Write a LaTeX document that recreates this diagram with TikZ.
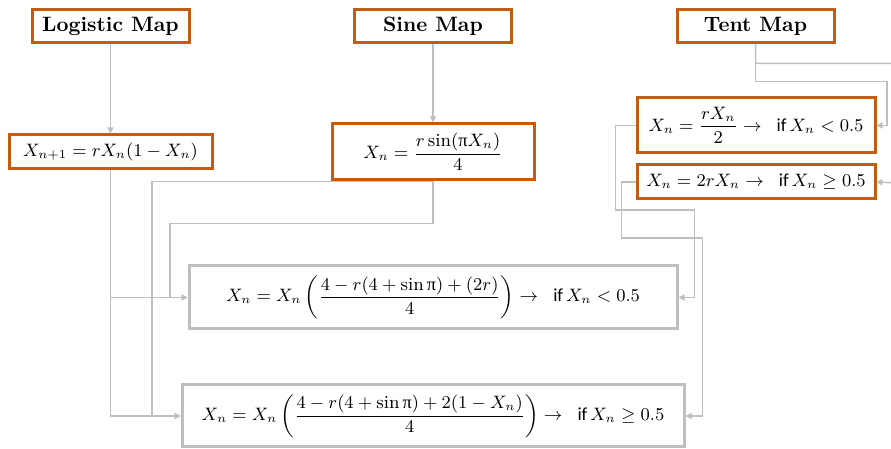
\documentclass[tikz,border=0pt]{standalone}
\usepackage{amsmath}
\usepackage{fontspec}
\newfontfamily\calib{Carlito}
\newfontfamily\grk{Liberation Serif}
\usetikzlibrary{arrows.meta}
\definecolor{orng}{HTML}{C55A11}
\definecolor{gry}{HTML}{BFBFBF}
\newcommand{\iftxt}{\mbox{\hspace{5pt}\calib if\,}}
\newcommand{\upi}{\mbox{\grk π}}
\begin{document}
\begin{tikzpicture}[x=0.5pt,y=-0.5pt,
  obox/.style={draw=orng,line width=1.5pt,fill=white,inner sep=0pt,align=center,font=\fontsize{9.2}{11}\selectfont},
  gbox/.style={draw=gry,line width=1.5pt,fill=white,inner sep=0pt,align=center,font=\fontsize{9.2}{11}\selectfont},
  title/.style={obox,font=\fontsize{10.4}{12.5}\selectfont\bfseries,minimum width=78.5pt,minimum height=16.5pt},
  conn/.style={draw=gry,line width=0.75pt,-{Triangle[length=3pt,width=3pt]}}]
\clip (0,0) rectangle (891,449);
% titles
\node[title] (logmap) at (110.5,26.5) {Logistic Map};
\node[title] (sinemap) at (433,26.5) {Sine Map};
\node[title] (tentmap) at (755.5,26.5) {Tent Map};
% equations
\node[obox,minimum width=101.5pt,minimum height=17pt] (logeq) at (110.5,152) {$X_{n+1}=rX_n(1-X_n)$};
\node[obox,minimum width=101pt,minimum height=28pt] (sineq) at (433,152) {$X_n=\dfrac{r\sin(\upi X_n)}{4}$};
\node[obox,minimum width=119pt,minimum height=27.5pt] (tenteqa) at (756,125.5) {$X_n=\dfrac{rX_n}{2}\to\iftxt X_n<0.5$};
\node[obox,minimum width=119pt,minimum height=17pt] (tenteqb) at (756,182) {$X_n=2rX_n\to\iftxt X_n\geq 0.5$};
% result boxes
\node[gbox,minimum width=244pt,minimum height=31.5pt] (resa) at (433,297.5)
  {$X_n=X_n\left(\dfrac{4-r(4+\sin\upi)+(2r)}{4}\right)\to\iftxt X_n<0.5$};
\node[gbox,minimum width=251pt,minimum height=31pt] (resb) at (433,416)
  {$X_n=X_n\left(\dfrac{4-r(4+\sin\upi)+2(1-X_n)}{4}\right)\to\iftxt X_n\geq 0.5$};
% connectors
\draw[conn] (logmap.south) -- (logeq.north);
\draw[conn] (sinemap.south) -- (sineq.north);
\draw[conn] (tentmap.south) -- ++(0,19) -- ++(150,0) -- ++(0,120) -- (tenteqb.east);
\draw[conn] (tentmap.south) |- ++(131.5,37) |- (tenteqa.east);
\draw[conn] (logeq.south) |- (resa.west);
\draw[conn] (logeq.south) |- (resb.west);
\draw[conn] (sineq.south) -- ++(-281,0) |- (resb.west);
\draw[conn] (sineq.south) -- ++(0,42) -- ++(-263,0) |- (resa.west);
\draw[conn] (tenteqa.west) -- ++(-20,0) -- ++(0,84.5) -- ++(79,0) |- (resa.east);
\draw[conn] (tenteqb.west) -- ++(-14,0) -- ++(0,56) -- ++(81,0) |- (resb.east);
\end{tikzpicture}
\end{document}
